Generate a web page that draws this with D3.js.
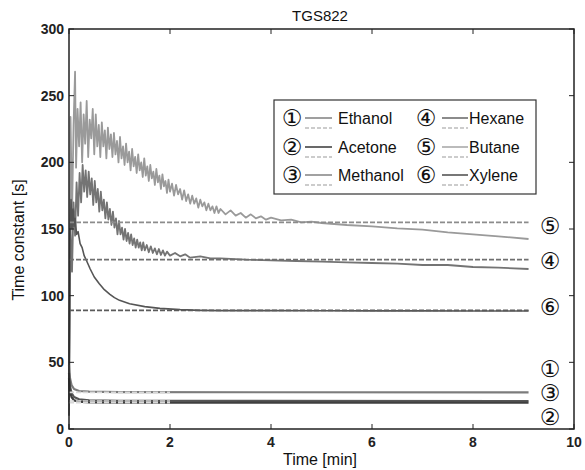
<!DOCTYPE html>
<html>
<head>
<meta charset="utf-8">
<style>
    body { margin: 0; background: #fff; }
    svg { display: block; font-family: 'Liberation Sans', Arial, sans-serif; }
    .tick-label { font-size: 14px; font-weight: bold; fill: #222; }
    .axis-title { font-size: 16px; fill: #111; }
    .legend-text { font-size: 16px; fill: #111; }
    .num { font-size: 23px; fill: #111; font-family: 'DejaVu Sans', sans-serif; }
</style>
</head>
<body>
<svg width="585" height="470"></svg>
<script src="https://d3js.org/d3.v7.min.js"></script>
<script>
    let width = 585
    let height = 470
    let margin = {top: 29, right: 11, bottom: 41, left: 69}

    let xTicks = [0, 2, 4, 6, 8, 10]
    let yTicks = [0, 50, 100, 150, 200, 250, 300]

    // [time (min), time constant (s)]
    let butane = [
        [0, 30], [0.03, 234], [0.06, 160], [0.09, 228], [0.12, 268], [0.14, 196], [0.17, 240], [0.20, 212],
        [0.23, 245], [0.26, 200], [0.29, 236], [0.32, 214], [0.35, 246], [0.38, 204], [0.41, 232], [0.44, 218],
        [0.47, 240], [0.50, 206], [0.53, 236], [0.56, 212], [0.59, 228], [0.62, 204], [0.65, 230], [0.68, 212],
        [0.71, 224], [0.74, 203], [0.77, 226], [0.80, 210], [0.83, 221], [0.86, 204], [0.89, 222], [0.92, 206],
        [0.95, 216], [0.98, 200], [1.01, 219], [1.04, 203], [1.07, 212], [1.10, 198], [1.13, 214], [1.16, 200],
        [1.19, 208], [1.22, 194], [1.25, 210], [1.28, 197], [1.31, 204], [1.34, 192], [1.37, 206], [1.40, 194],
        [1.43, 200], [1.46, 189], [1.49, 203], [1.52, 190], [1.55, 197], [1.58, 186], [1.61, 198], [1.64, 188],
        [1.67, 193], [1.70, 183], [1.73, 195], [1.76, 185], [1.79, 190], [1.82, 180], [1.85, 191], [1.88, 182],
        [1.91, 186], [1.94, 177], [1.97, 187], [2.00, 178], [2.04, 184], [2.08, 175], [2.12, 183], [2.16, 176],
        [2.20, 180], [2.24, 172], [2.28, 179], [2.32, 171], [2.36, 176], [2.40, 169], [2.44, 175], [2.48, 169],
        [2.52, 173], [2.56, 166], [2.60, 172], [2.64, 167], [2.68, 170], [2.72, 164], [2.76, 169], [2.80, 164],
        [2.84, 167], [2.88, 162], [2.92, 167], [2.96, 162], [3.00, 165], [3.1, 161], [3.2, 164], [3.3, 160],
        [3.4, 162], [3.5, 158.5], [3.6, 161], [3.7, 158], [3.8, 159.5], [3.9, 157], [4.0, 158.5], [4.2, 156.5],
        [4.4, 157], [4.6, 155], [4.8, 155.5], [5.0, 154.5], [5.5, 153], [6.0, 152], [6.5, 150.5], [7.0, 149.5],
        [7.5, 147.5], [8.0, 146], [8.5, 144.5], [9.1, 142.5]
    ]
    let hexane = [
        [0, 20], [0.03, 150], [0.06, 118], [0.09, 170], [0.12, 145], [0.15, 185], [0.18, 160], [0.21, 192],
        [0.24, 170], [0.27, 198], [0.30, 178], [0.33, 194], [0.36, 174], [0.39, 193], [0.42, 176], [0.45, 188],
        [0.48, 168], [0.51, 186], [0.54, 170], [0.57, 180], [0.60, 163], [0.63, 178], [0.66, 164], [0.69, 172],
        [0.72, 158], [0.75, 170], [0.78, 157], [0.81, 165], [0.84, 153], [0.87, 163], [0.90, 151], [0.93, 158],
        [0.96, 146], [0.99, 156], [1.02, 146], [1.05, 151], [1.08, 142], [1.11, 150], [1.14, 141], [1.17, 147],
        [1.20, 139], [1.23, 146], [1.26, 138], [1.29, 143], [1.32, 136], [1.35, 142], [1.38, 136], [1.41, 140],
        [1.44, 134], [1.47, 140], [1.50, 134], [1.54, 138], [1.58, 132.5], [1.62, 137], [1.66, 132], [1.70, 135.5],
        [1.74, 131], [1.78, 135], [1.82, 130.5], [1.86, 134], [1.90, 130], [1.94, 133], [2.00, 130], [2.1, 132],
        [2.2, 129.5], [2.3, 131], [2.4, 128.5], [2.6, 129.5], [2.8, 128], [3.0, 128], [3.5, 127], [4.0, 126.5],
        [4.5, 126], [5.0, 125.5], [5.5, 125], [6.0, 124.5], [6.5, 124], [7.0, 123], [7.5, 123], [8.0, 121.5],
        [8.5, 121], [9.1, 120]
    ]
    let xylene = [
        [0, 10], [0.02, 140], [0.04, 172], [0.06, 150], [0.08, 165], [0.10, 152], [0.12, 158], [0.15, 146],
        [0.18, 148], [0.22, 139], [0.26, 136], [0.30, 130], [0.35, 126], [0.42, 120], [0.5, 114], [0.6, 109],
        [0.7, 104.5], [0.81, 101], [0.9, 98.5], [1.0, 96.5], [1.2, 94], [1.5, 91.8], [1.8, 90.5], [2.2, 89.5],
        [2.6, 89], [3, 88.8], [4, 88.8], [5, 88.7], [6, 88.6], [7, 88.6], [8, 88.5], [9.1, 88.5]
    ]
    let methanol = [[0, 48], [0.02, 38], [0.05, 33], [0.1, 30], [0.2, 28.5], [0.4, 28], [1, 27.6], [9.1, 27.5]]
    let ethanol = [[0, 42], [0.02, 32], [0.05, 27], [0.1, 24], [0.2, 22.3], [0.4, 21.5], [1, 21.2], [9.1, 21]]
    let acetone = [[0, 38], [0.02, 28], [0.05, 24], [0.1, 21.5], [0.2, 20.5], [0.4, 20], [1, 19.8], [9.1, 19.7]]

    // dashed reference values: [label, value, end time]
    let refs = [
        ["\u2460", 21, 2], ["\u2461", 19.7, 2], ["\u2462", 27.5, 2],
        ["\u2463", 127, 9.1], ["\u2464", 155, 9.1], ["\u2465", 89, 9.1]
    ]

    // labels at the right end: [label, y value]
    let endLabels = [["\u2464", 152], ["\u2463", 126], ["\u2465", 91.5], ["\u2460", 45], ["\u2462", 27], ["\u2461", 9]]

    let gasNames = ["Ethanol", "Acetone", "Methanol", "Hexane", "Butane", "Xylene"]
    let gasNums = ["\u2460", "\u2461", "\u2462", "\u2463", "\u2464", "\u2465"]

    let svg = d3.select("svg")

    let x = d3.scaleLinear().domain([0, 10]).range([margin.left, width - margin.right])
    let y = d3.scaleLinear().domain([0, 300]).range([height - margin.bottom, margin.top])

    let line = d3.line().x(d => x(d[0])).y(d => y(d[1]))

    let refColor = {"\u2463": "#6f6f6f", "\u2464": "#8c8c8c", "\u2465": "#5a5a5a", "\u2460": "#d8d8d8", "\u2461": "#d8d8d8", "\u2462": "#d8d8d8"}

    let series = [
        {data: butane, color: "#9a9a9a", w: 1.8},
        {data: hexane, color: "#747474", w: 1.8},
        {data: xylene, color: "#555", w: 1.6},
        {data: methanol, color: "#7c7c7c", w: 2.2},
        {data: ethanol, color: "#555", w: 2.2},
        {data: acetone, color: "#3f3f3f", w: 2.2}
    ]

    svg.append("g")
        .selectAll("path")
        .data(series)
        .join("path")
        .attr("d", d => line(d.data))
        .attr("fill", "none")
        .attr("stroke", d => d.color)
        .attr("stroke-width", d => d.w)
        .attr("stroke-linejoin", "round")

    svg.append("g")
        .selectAll("line")
        .data(refs)
        .join("line")
        .attr("x1", x(0))
        .attr("x2", d => x(d[2]))
        .attr("y1", d => y(d[1]))
        .attr("y2", d => y(d[1]))
        .attr("stroke", d => refColor[d[0]])
        .attr("stroke-width", 1.6)
        .attr("stroke-dasharray", "5,2")

    // frame with inward ticks
    let frame = svg.append("g")
    frame.append("rect")
        .attr("x", x(0)).attr("y", y(300))
        .attr("width", x(10) - x(0)).attr("height", y(0) - y(300))
        .attr("fill", "none").attr("stroke", "#222").attr("stroke-width", 1.5)

    let tk = 5
    frame.selectAll(".xt")
        .data(xTicks)
        .join("path")
        .attr("d", d => `M${x(d)},${y(0)}v${-tk}M${x(d)},${y(300)}v${tk}`)
        .attr("stroke", "#222")
    frame.selectAll(".yt")
        .data(yTicks)
        .join("path")
        .attr("d", d => `M${x(0)},${y(d)}h${tk}M${x(10)},${y(d)}h${-tk}`)
        .attr("stroke", "#222")

    svg.selectAll(".xl")
        .data(xTicks)
        .join("text")
        .attr("class", "tick-label")
        .attr("x", d => x(d))
        .attr("y", y(0) + 18)
        .attr("text-anchor", "middle")
        .text(d => d)

    svg.selectAll(".yl")
        .data(yTicks)
        .join("text")
        .attr("class", "tick-label")
        .attr("x", x(0) - 5)
        .attr("y", d => y(d) + 5)
        .attr("text-anchor", "end")
        .text(d => d)

    svg.append("text")
        .attr("class", "axis-title")
        .attr("x", 320).attr("y", 21)
        .attr("text-anchor", "middle")
        .style("font-size", "15px")
        .text("TGS822")

    svg.append("text")
        .attr("class", "axis-title")
        .attr("x", 320).attr("y", 465)
        .attr("text-anchor", "middle")
        .text("Time [min]")

    svg.append("text")
        .attr("class", "axis-title")
        .attr("transform", "translate(24,240) rotate(-90)")
        .attr("text-anchor", "middle")
        .text("Time constant [s]")

    svg.selectAll(".endl")
        .data(endLabels)
        .join("text")
        .attr("class", "num")
        .attr("x", 550)
        .attr("y", d => y(d[1]) + 8)
        .attr("text-anchor", "middle")
        .text(d => d[0])

    // legend
    let legColors = ["#888", "#444", "#8a8a8a", "#6f6f6f", "#aaa", "#555"]
    let legend = svg.append("g")
    legend.append("rect")
        .attr("x", 274).attr("y", 100).attr("width", 262).attr("height", 94)
        .attr("fill", "#fff").attr("stroke", "#333").attr("stroke-width", 1.2)

    let cols = [{num: 292, l1: 305, l2: 332, txt: 338}, {num: 426, l1: 442, l2: 468, txt: 469}]
    let rows = [118, 147, 175]

    gasNames.forEach((name, i) => {
        let c = cols[Math.floor(i / 3)]
        let ry = rows[i % 3]
        legend.append("text").attr("class", "num").attr("x", c.num).attr("y", ry + 8)
            .attr("text-anchor", "middle").text(gasNums[i])
        legend.append("line").attr("x1", c.l1).attr("x2", c.l2).attr("y1", ry).attr("y2", ry)
            .attr("stroke", legColors[i]).attr("stroke-width", 1.6)
        legend.append("line").attr("x1", c.l1).attr("x2", c.l2).attr("y1", ry + 10).attr("y2", ry + 10)
            .attr("stroke", "#999").attr("stroke-width", 1.2).attr("stroke-dasharray", "4,2")
        legend.append("text").attr("class", "legend-text").attr("x", c.txt).attr("y", ry + 6).text(name)
    })
</script>
</body>
</html>
